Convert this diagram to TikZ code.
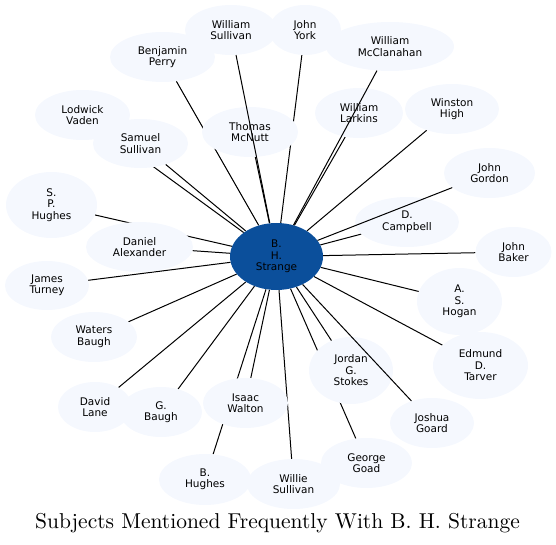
\documentclass[tikz,border=0pt]{standalone}
\usepackage{fontspec}
\newfontfamily\namefont{DejaVu Sans}
\newfontfamily\titlefont{lmroman10-regular.otf}
\usetikzlibrary{shapes.geometric,backgrounds}
\definecolor{hubblue}{RGB}{11,79,155}
\definecolor{palefill}{RGB}{245,248,254}
\tikzset{
  person/.style    = {ellipse, fill=palefill, inner sep=0pt, align=center,
                      font=\namefont\fontsize{10.5}{11.5}\selectfont},
  hub/.style       = {person, fill=hubblue},
  wh/.style 2 args = {minimum width=#1, minimum height=#2},
  link/.style      = {line width=1pt},
}

\begin{document}
\begin{tikzpicture}[x=1pt,y=-1pt]
  \useasboundingbox (0,0) rectangle (556,545);
  % the hub
  \node[hub,wh={93pt}{67pt}] (bhs) at (276.5,256.5) {B.\\H.\\Strange};
  % people mentioned with him
  \node[person,wh={92pt}{50pt}]  (wsul)   at (231,30)      {William\\Sullivan};
  \node[person,wh={72pt}{50pt}]  (york)   at (305,30)      {John\\York};
  \node[person,wh={105pt}{50pt}] (perry)  at (162.5,57)    {Benjamin\\Perry};
  \node[person,wh={128pt}{49pt}] (mccl)   at (390,46.5)    {William\\McClanahan};
  \node[person,wh={95pt}{50pt}]  (vaden)  at (82.5,115)    {Lodwick\\Vaden};
  \node[person,wh={95pt}{49pt}]  (ssul)   at (140.5,143.5) {Samuel\\Sullivan};
  \node[person,wh={96pt}{50pt}]  (mcnutt) at (250,132)     {Thomas\\McNutt};
  \node[person,wh={88pt}{50pt}]  (lark)   at (359,113)     {William\\Larkins};
  \node[person,wh={94pt}{50pt}]  (high)   at (452,109)     {Winston\\High};
  \node[person,wh={91pt}{50pt}]  (gord)   at (489.5,173)   {John\\Gordon};
  \node[person,wh={104pt}{50pt}] (camp)   at (407,222)     {D.\\Campbell};
  \node[person,wh={91pt}{66pt}]  (sph)    at (51.5,205)    {S.\\P.\\Hughes};
  \node[person,wh={107pt}{50pt}] (alex)   at (139.5,247)   {Daniel\\Alexander};
  \node[person,wh={76pt}{50pt}]  (baker)  at (513.5,252)   {John\\Baker};
  \node[person,wh={84pt}{49pt}]  (turn)   at (47,285.5)    {James\\Turney};
  \node[person,wh={86pt}{50pt}]  (wbau)   at (94,337)      {Waters\\Baugh};
  \node[person,wh={85pt}{67pt}]  (hogan)  at (459.5,301.5) {A.\\S.\\Hogan};
  \node[person,wh={95pt}{67pt}]  (tarv)   at (480.5,365.5) {Edmund\\D.\\Tarver};
  \node[person,wh={84pt}{67pt}]  (stok)   at (351,370.5)   {Jordan\\G.\\Stokes};
  \node[person,wh={74pt}{50pt}]  (lane)   at (95,407)      {David\\Lane};
  \node[person,wh={82pt}{50pt}]  (gbau)   at (161,412)     {G.\\Baugh};
  \node[person,wh={85pt}{50pt}]  (walt)   at (245.5,403)   {Isaac\\Walton};
  \node[person,wh={84pt}{50pt}]  (goard)  at (432,423)     {Joshua\\Goard};
  \node[person,wh={91pt}{50pt}]  (goad)   at (366.5,463)   {George\\Goad};
  \node[person,wh={92pt}{51pt}]  (bhug)   at (205,479.5)   {B.\\Hughes};
  \node[person,wh={93pt}{50pt}]  (wilsul) at (293.5,484)   {Willie\\Sullivan};
  % links, most of them under the names
  \begin{pgfonlayer}{background}
    \foreach \p in {york,perry,vaden,ssul,mcnutt,lark,high,camp,sph,alex,baker,
                    turn,wbau,hogan,tarv,stok,lane,gbau,walt,goad,bhug,wilsul}
      \draw[link] (bhs) -- (\p);
  \end{pgfonlayer}
  \foreach \p in {wsul,mccl,gord,goard}
    \draw[link] (bhs) -- (\p);
  \node[font=\titlefont\fontsize{21.5}{25}\selectfont] (title) at (277.5,523)
    {Subjects Mentioned Frequently With B. H. Strange};
\end{tikzpicture}
\end{document}
